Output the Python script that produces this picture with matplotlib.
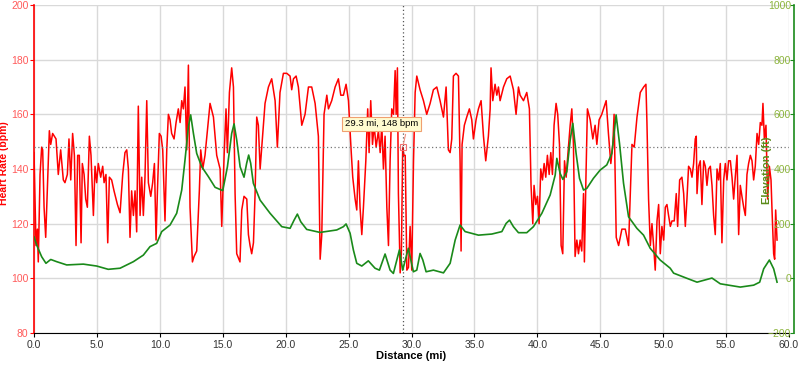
import numpy as np
import matplotlib
matplotlib.use('Agg')
import matplotlib.pyplot as plt

plt.rcParams['font.family'] = ['Liberation Sans', 'DejaVu Sans']

# heart rate trace (distance in miles, bpm)
hr_dist = [0.00, 0.16, 0.27, 0.34, 0.48, 0.61, 0.69, 0.80, 0.93, 1.06, 1.22, 1.33, 1.48, 1.75, 1.93,
           2.12, 2.33, 2.46, 2.65, 2.78, 2.92, 3.07, 3.21, 3.34, 3.47, 3.60, 3.74, 3.84, 3.98, 4.11,
           4.24, 4.40, 4.53, 4.72, 4.85, 4.98, 5.11, 5.30, 5.46, 5.57, 5.72, 5.86, 5.99, 6.17, 6.36,
           6.63, 6.84, 7.05, 7.23, 7.37, 7.50, 7.63, 7.76, 7.90, 8.03, 8.16, 8.29, 8.43, 8.56, 8.69,
           8.82, 8.96, 9.09, 9.28, 9.43, 9.57, 9.70, 9.81, 9.96, 10.10, 10.23, 10.41, 10.55, 10.68, 10.81,
           10.94, 11.13, 11.29, 11.47, 11.61, 11.74, 11.87, 12.00, 12.14, 12.27, 12.40, 12.59, 12.72, 12.93, 13.14,
           13.25, 13.41, 13.59, 13.78, 13.99, 14.26, 14.52, 14.79, 14.92, 15.11,
           15.26, 15.37, 15.53, 15.71, 15.85, 15.98, 16.11, 16.37, 16.51, 16.69, 16.91, 17.04, 17.17, 17.30, 17.44,
           17.57, 17.70, 17.83, 17.97, 18.10, 18.36, 18.63, 18.89, 19.16, 19.34, 19.55, 19.82, 20.09, 20.35, 20.48,
           20.62, 20.83, 21.01, 21.28, 21.54, 21.81, 22.07, 22.34, 22.60, 22.74, 22.87, 23.05, 23.27, 23.40, 23.66,
           23.93, 24.19, 24.38, 24.59, 24.80, 24.99, 25.20, 25.33, 25.52, 25.65, 25.78, 25.91, 26.05, 26.18, 26.37,
           26.52, 26.63, 26.76, 26.90, 27.03, 27.19, 27.37, 27.51, 27.64, 27.77, 27.90, 28.04, 28.17, 28.30, 28.43,
           28.57, 28.70, 28.78, 28.88, 28.96, 29.10, 29.20, 29.30, 29.40, 29.50, 29.63, 29.76, 29.89, 30.02, 30.16,
           30.29, 30.42,
           30.68, 30.95, 31.21, 31.48, 31.74, 32.01, 32.27, 32.54, 32.75, 32.93, 33.07, 33.20, 33.33, 33.54, 33.73,
           33.86, 33.94, 34.02, 34.20, 34.39, 34.60, 34.79, 34.92, 35.13, 35.32, 35.53, 35.72, 35.90, 36.11, 36.25,
           36.32, 36.46, 36.64, 36.78, 36.91, 37.04, 37.31, 37.57, 37.84, 38.10, 38.31, 38.50, 38.63, 38.90, 39.16,
           39.37, 39.50, 39.64, 39.74, 39.88, 40.01, 40.14, 40.27, 40.41, 40.54, 40.67, 40.80, 40.94, 41.07, 41.20,
           41.33, 41.49, 41.62, 41.76, 41.89, 42.02, 42.16, 42.29, 42.42, 42.61, 42.74, 42.87, 43.00, 43.14, 43.27,
           43.40, 43.53, 43.67, 43.74, 43.85, 43.98, 44.20, 44.41, 44.59, 44.73, 44.91, 45.12, 45.26, 45.47, 45.65,
           45.84, 46.00, 46.10,
           46.27, 46.46, 46.72, 46.99, 47.25, 47.52, 47.70, 47.92, 48.18, 48.45, 48.63, 48.71, 48.84, 48.98, 49.11,
           49.24, 49.37, 49.51, 49.64, 49.77, 49.90, 50.04, 50.17, 50.30, 50.43, 50.57, 50.70, 50.88, 51.04, 51.15,
           51.31, 51.49, 51.63, 51.76, 51.89, 52.02, 52.16, 52.29, 52.42, 52.55, 52.63, 52.69, 52.82, 52.95, 53.08,
           53.22, 53.35, 53.48, 53.61, 53.75, 53.88, 54.01, 54.14, 54.28, 54.41, 54.54, 54.67, 54.81, 54.94, 55.07,
           55.20, 55.34, 55.47, 55.60, 55.73, 55.87, 56.00, 56.13, 56.26, 56.40, 56.53, 56.66, 56.79, 56.93, 57.06,
           57.19, 57.32, 57.46, 57.59, 57.72, 57.85, 57.93, 58.04, 58.17, 58.30, 58.44, 58.57, 58.65, 58.78, 58.86,
           58.94, 59.05]
hr_bpm = [146, 112, 118, 106, 138, 148, 147, 126, 115, 132, 154, 149, 153, 151, 138,
          147, 136, 135, 138, 151, 136, 153, 145, 112, 145, 145, 113, 142, 138, 129,
          126, 152, 145, 123, 141, 135, 142, 137, 141, 135, 138, 113, 137, 136, 132,
          127, 124, 138, 146, 147, 140, 115, 132, 123, 132, 117, 163, 123, 137, 123,
          137, 165, 135, 130, 135, 142, 114, 132, 153, 152, 147, 121, 147, 160, 158,
          153, 151, 157, 162, 157, 165, 162, 170, 147, 178, 126, 106, 108, 110, 132,
          147, 140, 145, 154, 164, 159, 145, 140, 119, 145,
          162, 146, 168, 177, 170, 131, 109, 106, 125, 130, 129, 116, 112, 109, 113,
          131, 159, 156, 140, 148, 164, 170, 173, 165, 148, 168, 175, 175, 174, 169,
          173, 174, 170, 156, 160, 170, 170, 164, 152, 107, 116, 160, 167, 162, 165,
          170, 173, 167, 167, 171, 165, 147, 137, 129, 125, 143, 126, 116, 126, 143,
          162, 146, 165, 149, 156, 148, 154, 146, 156, 140, 152, 126, 112, 143, 162,
          160, 176, 160, 177, 131, 102, 110, 148, 145, 145, 103, 104, 119, 103, 143,
          168, 174,
          169, 165, 160, 164, 169, 170, 165, 159, 170, 147, 146, 151, 174, 175, 174,
          143, 110, 149, 156, 159, 162, 158, 151, 158, 162, 165, 152, 143, 152, 162,
          177, 165, 171, 167, 170, 165, 170, 173, 174, 169, 160, 170, 167, 165, 168,
          162, 134, 120, 134, 127, 130, 120, 140, 136, 142, 137, 145, 138, 146, 138,
          156, 164, 160, 149, 112, 109, 143, 137, 145, 156, 162, 149, 108, 114, 109,
          114, 110, 131, 106, 134, 162, 158, 151, 156, 149, 158, 160, 162, 165, 153,
          142, 149, 160,
          115, 112, 118, 118, 112, 149, 148, 159, 168, 170, 171, 157, 129, 112, 120,
          112, 103, 121, 127, 109, 119, 114, 126, 127, 123, 119, 121, 121, 131, 119,
          136, 137, 131, 119, 129, 141, 140, 137, 142, 151, 152, 131, 141, 143, 127,
          143, 141, 134, 140, 141, 134, 123, 116, 140, 136, 142, 113, 136, 142, 136,
          143, 143, 137, 129, 137, 145, 116, 134, 130, 126, 123, 138, 142, 145, 143,
          136, 141, 153, 149, 157, 156, 164, 151, 156, 129, 141, 136, 125, 109, 107,
          125, 114]

# elevation trace (distance in miles, feet)
el_dist = [0.00, 0.21, 0.61, 0.95, 1.33, 1.80, 2.60, 3.92, 4.98, 5.90, 6.84, 7.90, 8.69, 9.22, 9.75,
           10.15, 10.81, 11.34, 11.74, 12.00, 12.27, 12.45, 12.67, 12.93, 13.33, 13.86, 14.39, 15.00, 15.37, 15.71,
           15.90, 16.11, 16.38, 16.69, 16.90, 17.06, 17.22, 17.43, 17.97, 18.76, 19.69, 20.35, 20.67, 20.93, 21.20,
           21.67, 22.73, 24.06, 24.59, 24.80, 25.12, 25.38, 25.65, 26.05, 26.57, 27.10, 27.45, 27.90, 28.30, 28.56,
           29.04, 29.30, 29.75, 30.15, 30.42, 30.68, 30.90, 31.16, 31.74, 32.54, 33.07, 33.47, 33.86, 34.26, 35.32,
           36.38, 37.18, 37.52, 37.79, 38.10, 38.50, 39.16, 39.69, 40.36, 41.02, 41.42, 41.55, 41.81, 42.03, 42.34,
           42.61, 42.82, 43.08, 43.35, 43.67, 43.93, 44.46, 44.99, 45.52, 45.92, 46.13, 46.26, 46.53, 46.85, 47.25,
           47.91, 48.44, 48.97, 49.76, 50.56, 50.83, 51.89, 52.69, 53.88, 54.54, 56.13, 57.19, 57.67, 57.99, 58.44,
           58.78, 59.05]
el_ft = [152, 122, 79, 55, 69, 61, 49, 52, 45, 33, 37, 61, 85, 116, 128,
         171, 195, 238, 323, 433, 555, 598, 530, 457, 408, 372, 333, 321, 408, 530,
         565, 506, 408, 370, 421, 451, 421, 348, 286, 238, 189, 183, 213, 235, 207,
         179, 168, 177, 189, 199, 165, 104, 55, 45, 64, 37, 30, 89, 30, 18,
         104, 30, 110, 24, 30, 91, 67, 24, 30, 20, 55, 140, 195, 171, 158,
         162, 171, 201, 213, 189, 167, 167, 189, 238, 305, 378, 439, 384, 362, 390,
         506, 567, 457, 366, 323, 329, 366, 396, 415, 457, 543, 598, 494, 348, 225,
         183, 158, 110, 67, 37, 19, 0, -14, 1, -20, -32, -25, -14, 35, 67,
         35, -14]

sel_dist = 29.3
sel_hr = 148

fig = plt.figure(figsize=(8, 3.65), dpi=100)
ax = fig.add_axes([34/800, 1-333/365, 755/800, 328/365])
ax2 = ax.twinx()

ax.set_xlim(0, 60)
ax.set_ylim(80, 200)
ax2.set_ylim(-200, 1000)
ax.set_xticks(np.arange(0, 61, 5))
ax.set_xticklabels(['%.1f' % v for v in np.arange(0, 61, 5)])
ax.set_yticks(np.arange(80, 201, 20))
ax2.set_yticks(np.arange(-200, 1001, 200))

ax.grid(True, color='#d9d9d9', lw=1)
ax.set_axisbelow(True)

ax.plot(hr_dist, hr_bpm, color='#ff0000', lw=1.1, zorder=3)
ax2.plot(el_dist, el_ft, color='#1a8a1a', lw=1.2, zorder=3)

# crosshair
ax.axvline(sel_dist, color='#555555', lw=0.9, ls=(0, (1, 2)), zorder=4)
ax.axhline(sel_hr, color='#777777', lw=0.9, ls=(0, (1, 2)), zorder=4)
ax.plot([sel_dist], [sel_hr], marker='s', ms=4, mfc='none', mec='#f07070', mew=0.8, zorder=5)
ax.annotate('%.1f mi, %d bpm' % (sel_dist, sel_hr), xy=(sel_dist, sel_hr), xytext=(27.6, 156.5),
            ha='center', va='center', fontsize=6.8, zorder=6,
            bbox=dict(boxstyle='square,pad=0.3', fc='#fffbd0', ec='#f0a070', lw=0.8),
            arrowprops=dict(arrowstyle='-', color='#f09080', lw=0.8, relpos=(0.85, 0)))

# spines
ax.spines['top'].set_visible(False)
ax2.spines['top'].set_visible(False)
ax.spines['right'].set_visible(False)
ax2.spines['left'].set_visible(False)
ax2.spines['bottom'].set_visible(False)
ax.spines['left'].set_color('#ff0000')
ax.spines['left'].set_linewidth(1.2)
ax.spines['bottom'].set_color('black')
ax2.spines['right'].set_color('#1a8a1a')
ax2.spines['right'].set_linewidth(1.2)
ax2.spines['right'].set_position(('outward', 3.5))

ax.tick_params(axis='x', colors='black', labelcolor='#333333', labelsize=7.5, length=3, pad=2)
ax.tick_params(axis='y', colors='#ff0000', labelcolor='#ff5a5a', labelsize=7.5, length=3, pad=1)
ax2.tick_params(axis='y', colors='#1a8a1a', labelcolor='#8cb43c', labelsize=7.5, length=3,
                direction='in', pad=-2)
for lbl in ax2.get_yticklabels():
    lbl.set_horizontalalignment('right')

ax.set_xlabel('Distance (mi)', fontsize=8, fontweight='bold', labelpad=1)
ax.set_ylabel('Heart Rate (bpm)', fontsize=7.5, fontweight='bold', color='#ff0000')
ax.yaxis.set_label_coords(-0.033, 0.518)
fig.text(767/800, 1-170/365, 'Elevation (ft)', rotation=90, ha='center', va='center',
         fontsize=8, fontweight='bold', color='#5b8c1a')

fig.savefig('out.png', dpi=100)
